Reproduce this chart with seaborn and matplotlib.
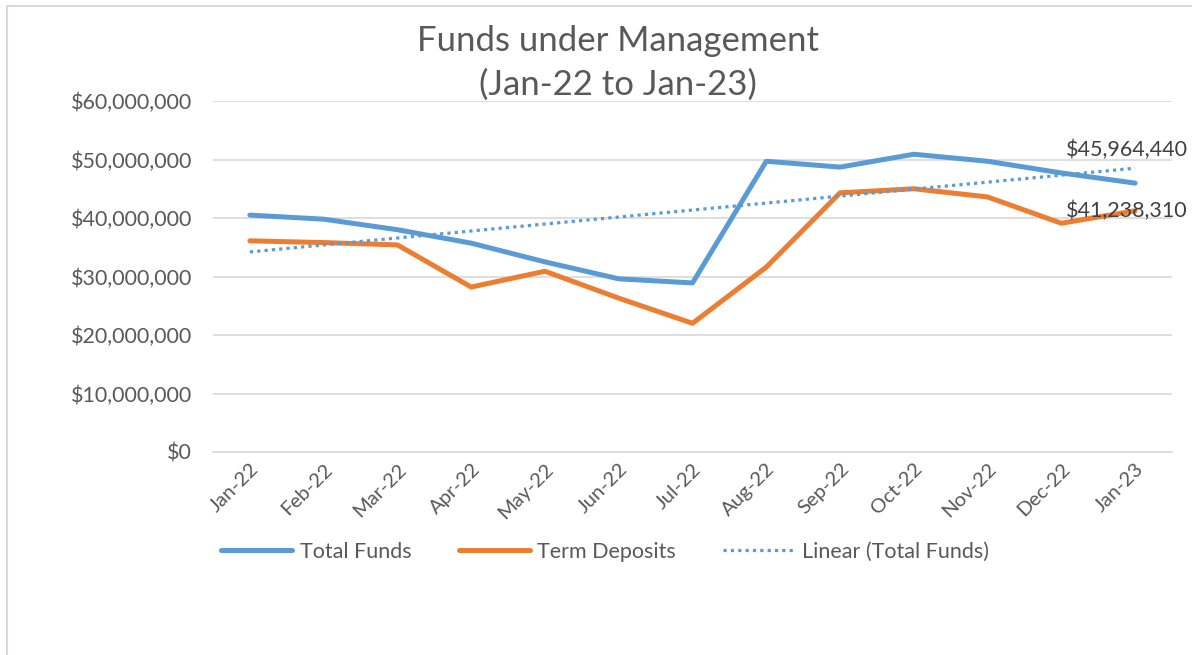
import matplotlib
matplotlib.use("Agg")
import matplotlib.pyplot as plt
import matplotlib.ticker as mticker
from matplotlib.patches import Rectangle
import seaborn as sns
import pandas as pd
import numpy as np

months = ["Jan-22", "Feb-22", "Mar-22", "Apr-22", "May-22", "Jun-22", "Jul-22",
          "Aug-22", "Sep-22", "Oct-22", "Nov-22", "Dec-22", "Jan-23"]
total_funds = [40.5e6, 39.8e6, 38.0e6, 35.7e6, 32.5e6, 29.6e6, 28.9e6,
               49.7e6, 48.7e6, 50.9e6, 49.7e6, 47.7e6, 45964440]
term_deposits = [36.1e6, 35.8e6, 35.4e6, 28.2e6, 30.9e6, 26.3e6, 22.0e6,
                 31.6e6, 44.3e6, 45.0e6, 43.6e6, 39.1e6, 41238310]
title = "Funds under Management\n(Jan-22 to Jan-23)"

BLUE = "#5B9BD5"
ORANGE = "#ED7D31"
GREY = "#595959"
GRID = "#D9D9D9"

sns.set_theme(style="white")
plt.rcParams["font.family"] = ["Lato", "DejaVu Sans"]

df = pd.DataFrame({"idx": np.arange(len(months)), "month": months,
                   "Total Funds": total_funds, "Term Deposits": term_deposits})

fig = plt.figure(figsize=(11.92, 6.55), dpi=100)
ax = fig.add_axes([213/1192, 1-452/655, (1172-213)/1192, (452-101)/655])

sns.lineplot(data=df, x="idx", y="Total Funds", ax=ax, color=BLUE, lw=3.6,
             label="Total Funds", legend=False)
sns.lineplot(data=df, x="idx", y="Term Deposits", ax=ax, color=ORANGE, lw=3.6,
             label="Term Deposits", legend=False)
sns.regplot(data=df, x="idx", y="Total Funds", ax=ax, scatter=False, ci=None,
            color=BLUE, label="Linear (Total Funds)",
            line_kws={"ls": (0, (1, 1.3)), "lw": 2.3})

ax.set_xlim(-0.5, len(months) - 0.5)
ax.set_ylim(0, 60e6)
ax.yaxis.set_major_locator(mticker.MultipleLocator(10e6))
ax.yaxis.set_major_formatter(mticker.StrMethodFormatter("${x:,.0f}"))
ax.set_xticks(df["idx"])
ax.set_xticklabels(months, rotation=45, ha="right", rotation_mode="anchor")
ax.set_xticks(np.arange(-0.5, len(months)), minor=True)
ax.tick_params(axis="x", which="major", length=0, pad=6, labelsize=14.5, labelcolor=GREY)
ax.tick_params(axis="x", which="minor", length=6, color=GRID, width=1, direction="out")
ax.tick_params(axis="y", length=0, pad=15, labelsize=15.5, labelcolor=GREY)
ax.set_xlabel("")
ax.set_ylabel("")
ax.grid(axis="y", color=GRID, lw=1.2)
ax.set_axisbelow(True)
for s in ["top", "right", "left"]:
    ax.spines[s].set_visible(False)
ax.spines["bottom"].set_color(GRID)
ax.spines["bottom"].set_linewidth(1.2)

# data labels on the last point
ax.annotate(f"${total_funds[-1]:,.0f}", xy=(len(months)-1, total_funds[-1]),
            xytext=(-69, 33), textcoords="offset pixels", ha="left", va="center",
            fontsize=15.5, color="#404040", annotation_clip=False)
ax.annotate(f"${term_deposits[-1]:,.0f}", xy=(len(months)-1, term_deposits[-1]),
            xytext=(-69, 0), textcoords="offset pixels", ha="left", va="center",
            fontsize=15.5, color="#404040", annotation_clip=False)

fig.text(618/1192, 1-63/655, title, ha="center", va="center", fontsize=25,
         color=GREY, linespacing=1.45)

handles, labels = ax.get_legend_handles_labels()
fig.legend(handles, labels, loc="center", bbox_to_anchor=(605/1192, 1-552/655),
           ncol=3, frameon=False, fontsize=15.5, labelcolor=GREY,
           handlelength=3.3, columnspacing=2.2, handletextpad=0.35)

fig.patches.append(Rectangle((7/1192, -0.05), 1.1, 1-6/655+0.05, transform=fig.transFigure,
                             fill=False, edgecolor=GRID, lw=1.5))

fig.savefig("out.png", dpi=100)
